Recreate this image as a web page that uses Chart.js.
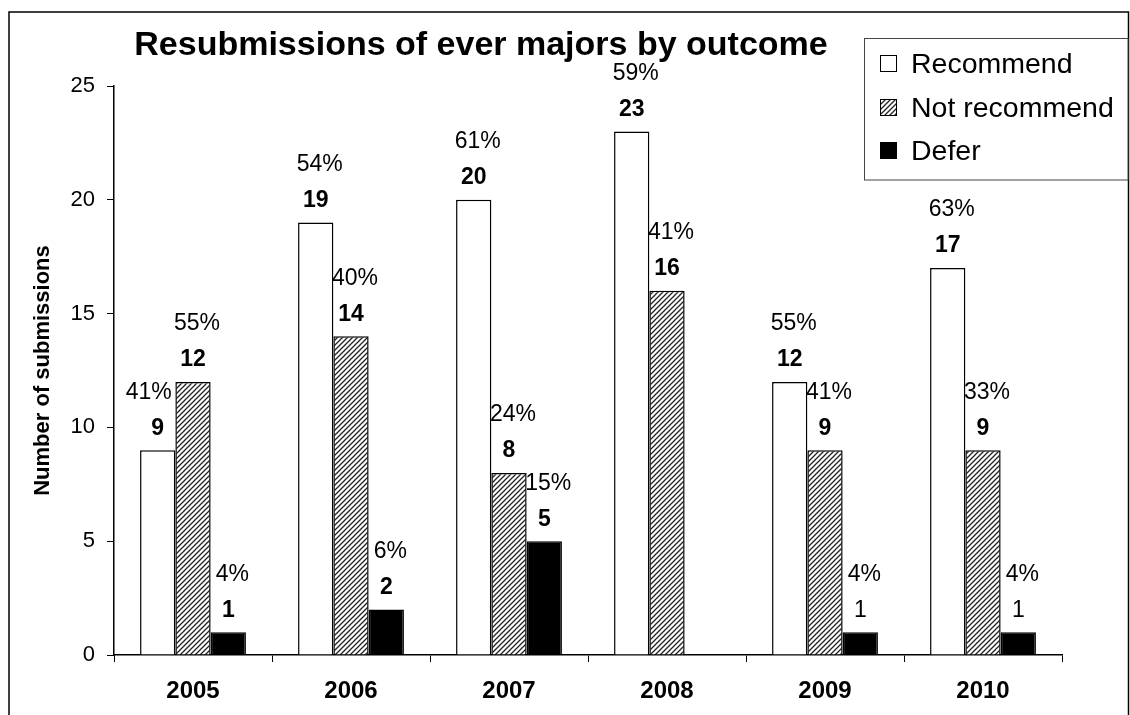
<!DOCTYPE html>
<html>
<head>
<meta charset="utf-8">
<script src="https://cdn.jsdelivr.net/npm/chart.js@4.4.0/dist/chart.umd.min.js"></script>
<style>
  body { margin: 0; background: #fff; }
</style>
</head>
<body>
<canvas id="myChart" width="1130" height="715"></canvas>
<script>
var years = ['2005', '2006', '2007', '2008', '2009', '2010'];
var recommend = [9, 19, 20, 23, 12, 17];
var notRecommend = [12, 14, 8, 16, 9, 9];
var defer = [1, 2, 5, null, 1, 1];
var recommendPct = ['41%', '54%', '61%', '59%', '55%', '63%'];
var notRecommendPct = ['55%', '40%', '24%', '41%', '41%', '33%'];
var deferPct = ['4%', '6%', '15%', null, '4%', '4%'];
var yTicks = [0, 5, 10, 15, 20, 25];

var FONT = '"Liberation Sans", Arial, sans-serif';
// the 2009 / 2010 defer counts are printed in regular weight in the original
var deferBold = [true, true, true, true, false, false];

document.addEventListener('DOMContentLoaded', function () {

    function makeHatch() {
        var c = document.createElement('canvas');
        c.width = 5;
        c.height = 5;
        var g = c.getContext('2d');
        g.fillStyle = '#fff';
        g.fillRect(0, 0, 5, 5);
        g.strokeStyle = '#222';
        g.lineWidth = 1.3;
        g.beginPath();
        g.moveTo(-1, 6); g.lineTo(6, -1);
        g.moveTo(-1, 1); g.lineTo(1, -1);
        g.moveTo(4, 6); g.lineTo(6, 4);
        g.stroke();
        return g.createPattern(c, 'repeat');
    }

    var ctx = document.getElementById('myChart').getContext('2d');
    var hatch = makeHatch();

    var pctLabels = [recommendPct, notRecommendPct, deferPct];

    var decorPlugin = {
        id: 'decor',
        afterDatasetsDraw: function (chart) {
            var c = chart.ctx;
            c.save();
            c.fillStyle = '#000';
            c.textAlign = 'center';
            c.textBaseline = 'middle';
            chart.data.datasets.forEach(function (ds, di) {
                var meta = chart.getDatasetMeta(di);
                meta.data.forEach(function (bar, i) {
                    var v = ds.data[i];
                    if (v === null || v === undefined) return;
                    var bold = di !== 2 || deferBold[i];
                    c.font = (bold ? 'bold ' : '') + '23px ' + FONT;
                    c.fillText(String(v), bar.x, bar.y - 22);
                    c.font = '23px ' + FONT;
                    // first label is pushed left in the original so it clears the next bar
                    var dx = (di === 0 && i === 0) ? -9 : 4;
                    c.fillText(pctLabels[di][i], bar.x + dx, bar.y - 58);
                });
            });
            c.restore();
        },
        afterDraw: function (chart) {
            var c = chart.ctx;
            c.save();
            // outer frame
            c.strokeStyle = '#000';
            c.lineWidth = 1.5;
            c.strokeRect(9, 12, 1119.5, 720);

            // title
            c.fillStyle = '#000';
            c.font = 'bold 34px ' + FONT;
            c.textAlign = 'center';
            c.textBaseline = 'middle';
            c.fillText('Resubmissions of ever majors by outcome', 481, 46);

            // legend box
            c.fillStyle = '#fff';
            c.fillRect(864, 38, 264, 142);
            c.strokeStyle = '#444';
            c.lineWidth = 1;
            c.strokeRect(864.5, 38.5, 263.5, 141.5);
            var rows = [64, 108, 151];
            c.font = '28.5px ' + FONT;
            c.textAlign = 'left';
            chart.data.datasets.forEach(function (ds, di) {
                var y = rows[di];
                c.fillStyle = ds.backgroundColor;
                c.fillRect(880, y - 9, 17, 17);
                c.strokeStyle = '#000';
                c.lineWidth = 1;
                c.strokeRect(880.5, y - 8.5, 16, 16);
                c.fillStyle = '#000';
                c.fillText(ds.label, 911, y + 1);
            });
            c.restore();
        }
    };

    var myChart = new Chart(ctx, {
        type: 'bar',
        data: {
            labels: years,
            datasets: [{
                label: 'Recommend',
                data: recommend,
                backgroundColor: '#fff',
                borderColor: '#000',
                borderWidth: 1.5
            }, {
                label: 'Not recommend',
                data: notRecommend,
                backgroundColor: hatch,
                borderColor: '#000',
                borderWidth: 1.5
            }, {
                label: 'Defer',
                data: defer,
                backgroundColor: '#000',
                borderColor: '#000',
                borderWidth: 1.5
            }]
        },
        options: {
            responsive: false,
            animation: false,
            layout: {
                padding: { left: 0, top: 86, right: 68, bottom: 0 }
            },
            categoryPercentage: 0.67,
            barPercentage: 1.0,
            plugins: {
                legend: { display: false },
                title: { display: false },
                tooltip: { enabled: false }
            },
            scales: {
                x: {
                    grid: {
                        offset: true,
                        drawOnChartArea: false,
                        tickLength: 7,
                        color: '#000'
                    },
                    border: { color: '#000', width: 1.5 },
                    ticks: {
                        color: '#000',
                        padding: 15,
                        font: { family: FONT, size: 24, weight: 'bold' }
                    },
                    afterFit: function (scale) { scale.height = 60; }
                },
                y: {
                    min: 0,
                    max: 25,
                    afterBuildTicks: function (scale) {
                        scale.ticks = yTicks.map(function (v) { return { value: v }; });
                    },
                    grid: {
                        drawOnChartArea: false,
                        tickLength: 7,
                        color: '#000'
                    },
                    border: { color: '#000', width: 1.5 },
                    ticks: {
                        color: '#000',
                        padding: 12,
                        font: { family: FONT, size: 22 }
                    },
                    title: {
                        display: true,
                        text: 'Number of submissions',
                        color: '#000',
                        padding: { top: 30, bottom: 0 },
                        font: { family: FONT, size: 22, weight: 'bold' }
                    },
                    afterFit: function (scale) { scale.width = 114; }
                }
            }
        },
        plugins: [decorPlugin]
    });
});
</script>
</body>
</html>
